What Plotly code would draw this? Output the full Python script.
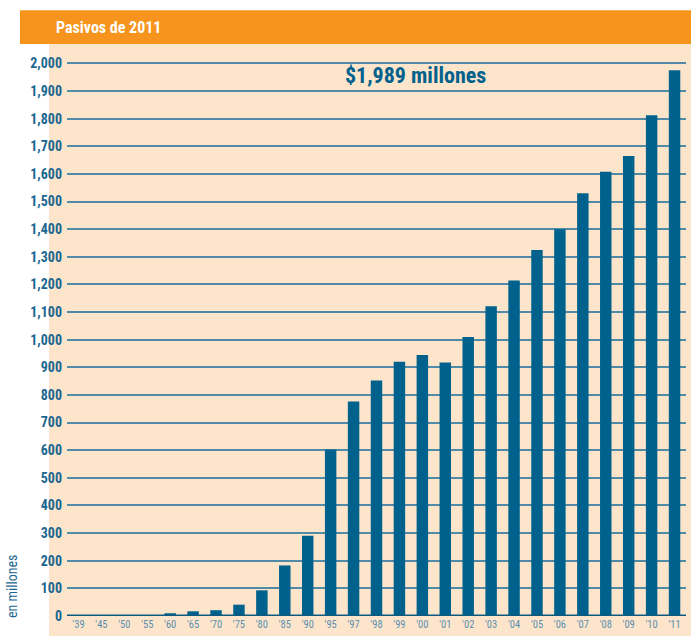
import plotly.graph_objects as go

years = ["'39", "'45", "'50", "'55", "'60", "'65", "'70", "'75", "'80", "'85", "'90",
         "'95", "'97", "'98", "'99", "'00", "'01", "'02", "'03", "'04", "'05", "'06",
         "'07", "'08", "'09", "'10", "'11"]
values = [0.5, 0.5, 1, 2, 10, 17, 21, 41, 93, 183, 290,
          603, 776, 852, 920, 945, 917, 1010, 1121, 1214, 1325, 1400,
          1530, 1608, 1665, 1812, 1975]
y_ticks = list(range(0, 2001, 100))

title_text = "Pasivos de 2011"
note_text = "$1,989 millones"
axis_text = "en millones"

NARROW = "Liberation Sans Narrow, Arial Narrow, Roboto Condensed, Liberation Sans, sans-serif"
BLUE = "#00628c"
LABEL_BLUE = "#1b6690"

fig = go.Figure()
fig.add_trace(go.Bar(x=years, y=values, marker=dict(color=BLUE, line=dict(width=0)),
                     width=0.5, hoverinfo="x+y"))

W, H = 691, 636
L, R, T, B = 67, 5, 62, 18
pw, ph = W - L - R, H - T - B

def px_x(px):
    return (px - L) / pw

def px_y(py):
    return 1 - (py - T) / ph

shapes = [
    # peach background
    dict(type="rect", xref="paper", yref="paper", x0=px_x(49), x1=px_x(692),
         y0=px_y(640), y1=px_y(44), fillcolor="#fde5cc", line=dict(width=0), layer="below"),
    # orange title band
    dict(type="rect", xref="paper", yref="paper", x0=px_x(20), x1=px_x(692),
         y0=px_y(44), y1=px_y(10), fillcolor="#f7941d", line=dict(width=0), layer="below"),
    # baseline
    dict(type="line", xref="paper", yref="y", x0=0, x1=1, y0=0, y1=0,
         line=dict(color="#0d5a80", width=3), layer="above"),
]

annotations = [
    dict(text=f"<b>{title_text}</b>", xref="paper", yref="paper", x=px_x(54), y=px_y(27),
         xanchor="left", yanchor="middle", showarrow=False,
         font=dict(family=NARROW, size=16, color="white")),
    dict(text=f"<b>{note_text}</b>", xref="paper", yref="paper", x=px_x(415), y=px_y(76),
         xanchor="center", yanchor="middle", showarrow=False,
         font=dict(family=NARROW, size=22, color=BLUE)),
    dict(text=axis_text, xref="paper", yref="paper", x=px_x(12), y=px_y(588),
         xanchor="center", yanchor="middle", showarrow=False, textangle=-90,
         font=dict(family=NARROW, size=14, color=LABEL_BLUE)),
]

fig.update_layout(
    width=W, height=H,
    margin=dict(l=L, r=R, t=T, b=B),
    paper_bgcolor="white",
    plot_bgcolor="rgba(0,0,0,0)",
    showlegend=False,
    bargap=0.5,
    shapes=shapes,
    annotations=annotations,
    xaxis=dict(type="category", showgrid=False, zeroline=False, showline=False,
               ticks="", tickfont=dict(family=NARROW, size=10.5, color="#5a8fb0"),
               ticklabelstandoff=0,
               range=[-0.5, len(years) - 0.5], fixedrange=True),
    yaxis=dict(range=[0, 2005], tickvals=y_ticks, tickformat=",",
               showgrid=True, gridcolor="#4f8aa6", gridwidth=1.5,
               zeroline=False, showline=False, ticks="",
               ticklabelstandoff=4,
               tickfont=dict(family=NARROW, size=14, color=LABEL_BLUE, weight="bold"),
               fixedrange=True),
)

fig.write_html("out.html", config={"displayModeBar": False},
               post_script="document.body.style.margin='0px';document.body.style.overflow='hidden';")
